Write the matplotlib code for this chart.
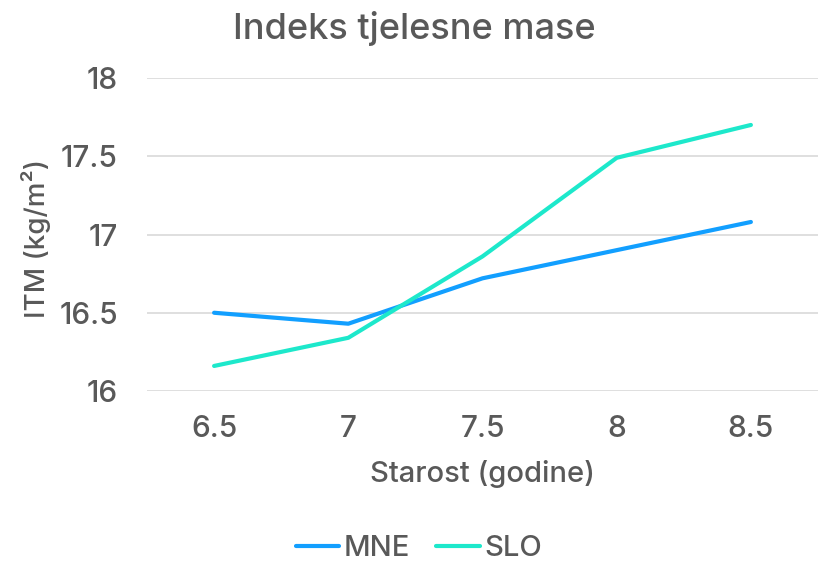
import numpy as np
import matplotlib
matplotlib.use("Agg")
import matplotlib.pyplot as plt

plt.rcParams['font.family'] = ['Inter', 'DejaVu Sans']
plt.rcParams['font.weight'] = 'medium'

ages = ["6.5", "7", "7.5", "8", "8.5"]
mne = [16.50, 16.43, 16.72, 16.90, 17.08]
slo = [16.16, 16.34, 16.86, 17.49, 17.70]
yticks = [16, 16.5, 17, 17.5, 18]
ytick_labels = ["16", "16.5", "17", "17.5", "18"]

txt = '#595959'
W, H = 839, 564
fig = plt.figure(figsize=(W/100, H/100), dpi=100)
ax = fig.add_axes([147/W, 1-391/H, (818-147)/W, (391-78)/H])

x = np.arange(len(ages))
ax.plot(x, mne, color='#129FFF', lw=3, solid_capstyle='round', label='MNE')
ax.plot(x, slo, color='#1DE8CB', lw=3, solid_capstyle='round', label='SLO')

ax.set_xlim(-0.5, len(ages)-0.5)
ax.set_ylim(16, 18)
ax.set_yticks(yticks)
ax.set_yticklabels(ytick_labels)
ax.set_xticks(x)
ax.set_xticklabels(ages)
ax.grid(axis='y', color='#d9d9d9', lw=1.2)
ax.set_axisbelow(True)
for s in ax.spines.values():
    s.set_visible(False)
ax.tick_params(length=0, labelsize=21.5, colors=txt)
ax.tick_params(axis='y', pad=21)
ax.tick_params(axis='x', pad=17)

# title, axis labels placed in figure coords
fig.text(414/W, 1-28/H, "Indeks tjelesne mase", fontsize=26, color=txt,
         ha='center', va='center')
fig.text(482/W, 1-474/H, "Starost (godine)", fontsize=21,
         color=txt, ha='center', va='center')
fig.text(36/W, 1-238/H, "ITM (kg/m²)", fontsize=20, color=txt,
         ha='center', va='center', rotation=90)

fig.legend(loc='center', bbox_to_anchor=(419/W, 1-549/H), ncol=2, frameon=False,
           fontsize=21, labelcolor=txt, handlelength=1.5, handletextpad=0.15,
           columnspacing=0.9)

fig.savefig("out.png", dpi=100)
